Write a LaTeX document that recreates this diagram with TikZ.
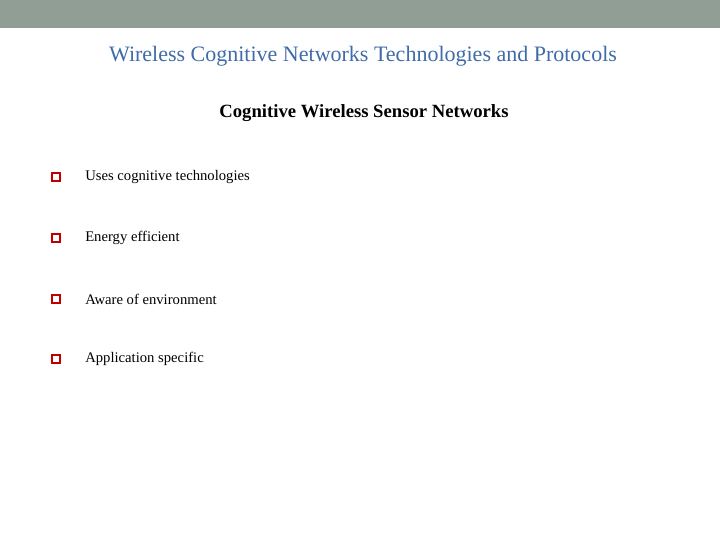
\documentclass[tikz,border=0pt]{standalone}
\usepackage{fontspec}
\setmainfont{Liberation Serif}
\definecolor{barc}{HTML}{919E95}
\definecolor{titc}{HTML}{3F6BA8}
\definecolor{bulc}{HTML}{C00000}
\begin{document}
\begin{tikzpicture}[x=0.75pt,y=-0.75pt,
  item/.style={anchor=west,inner sep=0pt,font=\fontsize{11}{13}\selectfont},
  bul/.style={draw=bulc,line width=1.2pt,minimum size=6pt,inner sep=0pt}]
\useasboundingbox (0,0) rectangle (720,540);
\fill[barc] (0,0) rectangle (720,28);
\node[text=titc,font=\fontsize{16.5}{18}\selectfont] (title) at (363,56) {Wireless Cognitive Networks Technologies and Protocols};
\node[font=\bfseries\fontsize{14}{16}\selectfont] (sub) at (364,113) {Cognitive Wireless Sensor Networks};
\foreach \y/\t/\n in {177/Uses cognitive technologies/a,238/Energy efficient/b,299/Aware of environment/c,359/Application specific/d}{
  \node[bul] (b\n) at (56,\y) {};
  \node[item] (t\n) at (85,\y) {\t};
}
\end{tikzpicture}
\end{document}
